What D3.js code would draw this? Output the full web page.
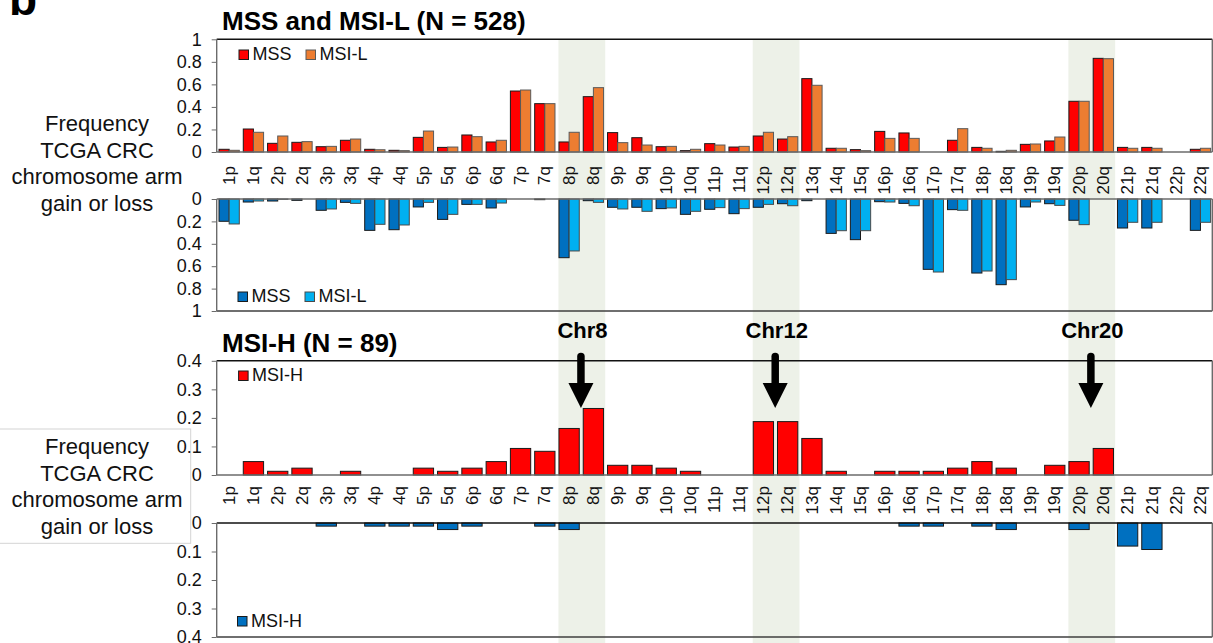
<!DOCTYPE html>
<html>
<head>
<meta charset="utf-8">
<script src="https://cdn.jsdelivr.net/npm/d3@7"></script>
<style>
  html, body { margin: 0; padding: 0; background: #fff; }
  svg { display: block; font-family: "Liberation Sans", Arial, sans-serif; }
</style>
</head>
<body>
<svg id="chart" width="1213" height="643"></svg>
<script>
// Chromosome arms (acrocentric p arms 13p, 14p, 15p are not shown)
const arms = ["1p","1q","2p","2q","3p","3q","4p","4q","5p","5q","6p","6q","7p","7q","8p","8q",
  "9p","9q","10p","10q","11p","11q","12p","12q","13q","14q","15q","16p","16q","17p","17q",
  "18p","18q","19p","19q","20p","20q","21p","21q","22p","22q"];

// MSS and MSI-L (N = 528): frequency of arm gain
const gainMSS = [0.024,0.204,0.077,0.086,0.047,0.104,0.024,0.015,0.130,0.041,0.151,0.089,0.541,0.429,0.089,0.491,
  0.172,0.127,0.047,0.012,0.074,0.044,0.142,0.115,0.651,0.033,0.021,0.183,0.169,0,0.104,
  0.041,0.006,0.068,0.098,0.450,0.831,0.041,0.041,0,0.024];
const gainMSIL = [0.015,0.175,0.142,0.092,0.050,0.115,0.020,0.012,0.186,0.044,0.136,0.104,0.550,0.429,0.175,0.571,
  0.083,0.062,0.050,0.024,0.062,0.050,0.175,0.136,0.592,0.033,0.012,0.121,0.121,0,0.207,
  0.033,0.015,0.071,0.133,0.450,0.828,0.033,0.033,0,0.033];

// MSS and MSI-L: frequency of arm loss
const lossMSS = [0.199,0.027,0.018,0.012,0.101,0.030,0.280,0.274,0.071,0.182,0.048,0.080,0,0.006,0.524,0.015,
  0.074,0.074,0.086,0.137,0.092,0.131,0.074,0.042,0.015,0.307,0.363,0.024,0.039,0.628,0.095,
  0.661,0.765,0.071,0.042,0.190,0,0.259,0.259,0,0.280];
const lossMSIL = [0.223,0.018,0.003,0,0.089,0.039,0.226,0.232,0.030,0.137,0.048,0.036,0,0,0.464,0.030,
  0.089,0.110,0.080,0.110,0.077,0.086,0.048,0.060,0,0.283,0.283,0.027,0.060,0.652,0.101,
  0.643,0.720,0.027,0.057,0.229,0,0.208,0.208,0,0.208];

// MSI-H (N = 89): frequency of arm gain and loss
const gainMSIH = [0,0.047,0.013,0.024,0,0.013,0,0,0.024,0.013,0.024,0.047,0.093,0.083,0.163,0.233,
  0.034,0.034,0.024,0.013,0,0,0.187,0.187,0.128,0.013,0,0.013,0.013,0.013,0.024,
  0.047,0.024,0,0.034,0.047,0.093,0,0,0,0];
const lossMSIH = [0,0,0,0,0.011,0,0.011,0.011,0.011,0.023,0.011,0,0,0.011,0.023,0,
  0,0,0,0,0,0,0,0,0,0,0,0,0.011,0.011,0,
  0.011,0.023,0,0,0.023,0,0.081,0.093,0,0];

// Highlighted chromosomes (p arm marks the start of each band)
const highlightArms = ["8p","12p","20p"];
const highlightLabels = ["Chr8","Chr12","Chr20"];

// Axis tick values
const ticksTop = [0,0.2,0.4,0.6,0.8,1];
const ticksBottom = [0,0.1,0.2,0.3,0.4];

const yTitleLines = ["Frequency","TCGA CRC","chromosome arm","gain or loss"];

const C = { red: "#ff0000", orange: "#ed7d31", dblue: "#0070c0", lblue: "#00b0f0",
            band: "#edf1e8", frame: "#3f3f3f", axis: "#6b6b6b" };

const svg = d3.select("#chart");
const FONT = "Liberation Sans, Arial, sans-serif";

const plotLeft = 216.7, plotRight = 1212.3;
const x = d3.scaleBand().domain(arms).range([plotLeft, plotRight]).padding(0);
const step = x.step();
const barOffset = 2.3, groupW = 20.3;

// Vertical scales for the four plotting areas
const yGainTop = d3.scaleLinear().domain([0, 1]).range([152, 39.3]);
const yLossTop = d3.scaleLinear().domain([0, 1]).range([199, 311]);
const yGainBot = d3.scaleLinear().domain([0, 0.4]).range([475, 360.8]);
const yLossBot = d3.scaleLinear().domain([0, 0.4]).range([523, 637]);

// Shaded bands behind highlighted chromosomes
const bands = svg.append("g");
highlightArms.forEach(a => {
  bands.append("rect")
    .attr("x", x(a) + 1.8).attr("width", 2 * step - 1.8)
    .attr("y", 39.3).attr("height", 643 - 39.3)
    .attr("fill", C.band);
});

// Panel letter
svg.append("text").attr("x", 9).attr("y", 15)
  .attr("font-size", 46).attr("font-weight", "bold").attr("font-family", FONT).text("b");

function yTitle(baselines) {
  const t = svg.append("text").attr("font-size", 22).attr("font-family", FONT)
    .attr("text-anchor", "middle").attr("fill", "#111");
  yTitleLines.forEach((s, i) => t.append("tspan").attr("x", 97).attr("y", baselines[i]).text(s));
}

function yAxis(scale, ticks) {
  const g = svg.append("g").attr("transform", `translate(${plotLeft},0)`)
    .call(d3.axisLeft(scale).tickValues(ticks).tickSize(5).tickSizeOuter(0)
      .tickFormat(d => String(+d.toFixed(1))));
  g.select(".domain").remove();
  g.selectAll(".tick line").attr("stroke", C.axis);
  g.selectAll(".tick text").attr("x", -15).attr("font-size", 18)
    .attr("font-family", FONT).attr("fill", "#111");
}

function frame(scale, zeroColor, farColor) {
  const [a, b] = scale.range();
  const g = svg.append("g").attr("fill", "none").attr("stroke-width", 1.4);
  g.append("line").attr("x1", plotLeft).attr("x2", plotRight).attr("y1", a).attr("y2", a).attr("stroke", zeroColor);
  g.append("line").attr("x1", plotLeft).attr("x2", plotRight).attr("y1", b).attr("y2", b).attr("stroke", farColor);
  g.append("line").attr("x1", plotLeft).attr("x2", plotLeft).attr("y1", a).attr("y2", b).attr("stroke", C.axis);
  g.append("line").attr("x1", plotRight).attr("x2", plotRight).attr("y1", a).attr("y2", b).attr("stroke", C.axis);
}

function bars(series, scale, down) {
  const names = series.map(s => s.name);
  const xi = d3.scaleBand().domain(names).range([barOffset, barOffset + groupW]).padding(0);
  const g = svg.append("g");
  series.forEach(s => {
    const pts = arms.map((a, i) => ({ arm: a, v: s.values[i] })).filter(d => d.v > 0);
    g.selectAll(null).data(pts).enter().append("rect")
      .attr("x", d => x(d.arm) + xi(s.name))
      .attr("width", xi.bandwidth())
      .attr("y", d => down ? scale(0) : scale(d.v))
      .attr("height", d => Math.abs(scale(d.v) - scale(0)))
      .attr("fill", s.color).attr("stroke", s.stroke).attr("stroke-width", 1);
  });
}

function legend(series, x0, yBase) {
  let cx = x0;
  series.forEach(s => {
    svg.append("rect").attr("x", cx).attr("y", yBase - 9.5).attr("width", 9.5).attr("height", 9.5)
      .attr("fill", s.color).attr("stroke", s.stroke).attr("stroke-width", 1);
    svg.append("text").attr("x", cx + 13.5).attr("y", yBase + 0.5)
      .attr("font-size", 18).attr("font-family", FONT).attr("fill", "#111").text(s.name);
    cx += 67;
  });
}

function armLabels(topY) {
  svg.append("g").selectAll("text").data(arms).enter().append("text")
    .attr("transform", d => `translate(${x(d) + step / 2},${topY}) rotate(-90)`)
    .attr("text-anchor", "end").attr("dy", "0.35em")
    .attr("font-size", 17).attr("font-family", FONT).attr("fill", "#111")
    .text(d => d);
}

// ---- Top panel: MSS and MSI-L ----
svg.append("text").attr("x", 222).attr("y", 30).attr("font-size", 26).attr("font-weight", "bold")
  .attr("font-family", FONT).text("MSS and MSI-L (N = 528)");
yTitle([131, 157.5, 184, 210.5]);

const topGain = [{ name: "MSS", values: gainMSS, color: C.red, stroke: "#1a1a1a" },
                 { name: "MSI-L", values: gainMSIL, color: C.orange, stroke: "#5a5a5a" }];
const topLoss = [{ name: "MSS", values: lossMSS, color: C.dblue, stroke: "#1a1a1a" },
                 { name: "MSI-L", values: lossMSIL, color: C.lblue, stroke: "#4a4a4a" }];

bars(topGain, yGainTop, false);
bars(topLoss, yLossTop, true);
frame(yGainTop, C.axis, "#111");
frame(yLossTop, C.axis, C.frame);
yAxis(yGainTop, ticksTop);
yAxis(yLossTop, ticksTop);
legend(topGain, 239, 59.5);
legend(topLoss, 238, 301.5);
armLabels(166);

// ---- Bottom panel: MSI-H ----
svg.append("text").attr("x", 222).attr("y", 352).attr("font-size", 26).attr("font-weight", "bold")
  .attr("font-family", FONT).text("MSI-H (N = 89)");

// framed y-axis title
svg.append("rect").attr("x", -2).attr("y", 429).attr("width", 192.7).attr("height", 114.3)
  .attr("fill", "#fff").attr("stroke", "#d4d4d4").attr("stroke-width", 1);
yTitle([454, 480.5, 507, 533.5]);

const botGain = [{ name: "MSI-H", values: gainMSIH, color: C.red, stroke: "#1a1a1a" }];
const botLoss = [{ name: "MSI-H", values: lossMSIH, color: C.dblue, stroke: "#1a1a1a" }];

bars(botGain, yGainBot, false);
bars(botLoss, yLossBot, true);
frame(yGainBot, C.axis, "#111");
frame(yLossBot, "#111", C.frame);
yAxis(yGainBot, ticksBottom);
yAxis(yLossBot, ticksBottom);
legend(botGain, 238.6, 380.5);
legend(botLoss, 237.5, 626);
armLabels(486);

// Arrows and labels for the highlighted chromosomes
highlightArms.forEach((a, i) => {
  const cx = x(a) + step;
  svg.append("text").attr("x", cx + 1.5).attr("y", 338).attr("text-anchor", "middle")
    .attr("font-size", 22).attr("font-weight", "bold").attr("font-family", FONT)
    .text(highlightLabels[i]);
  svg.append("line").attr("x1", cx).attr("x2", cx).attr("y1", 356.5).attr("y2", 386)
    .attr("stroke", "#000").attr("stroke-width", 7.5).attr("stroke-linecap", "round");
  svg.append("path")
    .attr("d", `M${cx - 12.5},383 L${cx + 12.5},383 L${cx},408 Z`)
    .attr("fill", "#000");
});
</script>
</body>
</html>
